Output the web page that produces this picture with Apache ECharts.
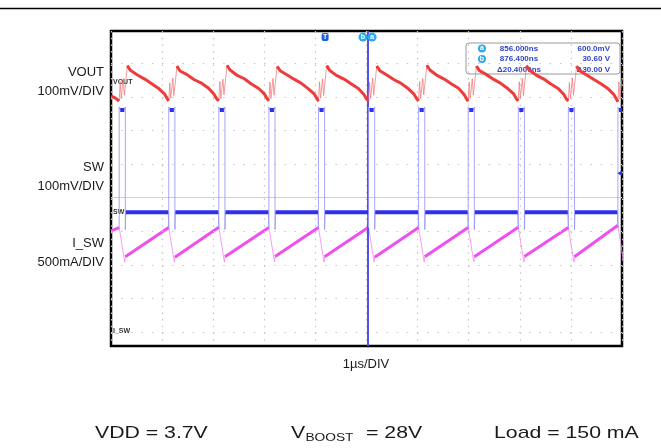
<!DOCTYPE html>
<html><head><meta charset="utf-8">
<script src="https://cdn.jsdelivr.net/npm/echarts@6/dist/echarts.min.js"></script>
<style>html,body{margin:0;padding:0;background:#fff}#c{width:661px;height:448px}</style>
</head><body><div id="c"></div>
<script>
// time axis: microseconds (1 div = 1 us), vertical axis: scope divisions (0 = centre line)
const xTicks = [0,1,2,3,4,5,6,7,8,9,10];
const gridRows = [-4,-3,-2,-1,1,2,3,4];
const centreRow = [0];
const cursorTime = [5.02];
const markers = [{name:'T', t:4.19}, {name:'b', t:4.93}, {name:'a', t:5.11}];
const swArrow = [[9.95, 0.73]];

const voutMain = [
[0.00,3.03],[0.08,2.97],[0.16,2.88],null,
[0.32,3.93],[0.38,3.79],[0.51,3.66],[0.66,3.53],[0.79,3.40],[0.94,3.24],[1.05,3.08],[1.10,2.95],[1.13,2.88],null,
[1.29,3.92],[1.35,3.77],[1.48,3.67],[1.63,3.51],[1.76,3.42],[1.91,3.26],[2.02,3.07],[2.07,2.94],[2.11,2.88],null,
[2.27,3.94],[2.33,3.80],[2.46,3.65],[2.61,3.54],[2.74,3.39],[2.89,3.25],[3.00,3.09],[3.05,2.96],[3.09,2.88],null,
[3.25,3.91],[3.31,3.78],[3.44,3.66],[3.59,3.52],[3.72,3.41],[3.87,3.23],[3.98,3.08],[4.03,2.95],[4.06,2.87],null,
[4.22,3.93],[4.28,3.79],[4.41,3.64],[4.56,3.53],[4.69,3.40],[4.84,3.25],[4.95,3.07],[5.00,2.94],[5.04,2.88],null,
[5.20,3.92],[5.26,3.78],[5.39,3.66],[5.54,3.51],[5.67,3.41],[5.82,3.24],[5.93,3.08],[5.98,2.95],[6.02,2.88],null,
[6.18,3.94],[6.24,3.80],[6.37,3.65],[6.52,3.53],[6.65,3.40],[6.80,3.26],[6.91,3.07],[6.96,2.94],[6.99,2.87],null,
[7.15,3.92],[7.21,3.78],[7.34,3.67],[7.49,3.52],[7.62,3.41],[7.77,3.24],[7.88,3.09],[7.93,2.95],[7.97,2.88],null,
[8.13,3.93],[8.19,3.79],[8.32,3.65],[8.47,3.53],[8.60,3.39],[8.75,3.25],[8.86,3.08],[8.91,2.94],[8.95,2.88],null,
[9.11,3.92],[9.17,3.78],[9.30,3.66],[9.45,3.52],[9.58,3.40],[9.73,3.24],[9.84,3.07],[9.89,2.94],[9.92,2.85]
];
const voutEdge = [
[0.16,2.88],[0.18,3.45],[0.20,2.95],[0.24,3.55],[0.26,3.05],[0.30,3.62],[0.32,3.93],null,
[1.13,2.88],[1.15,3.42],[1.17,2.96],[1.21,3.56],[1.23,3.04],[1.27,3.60],[1.29,3.92],null,
[2.11,2.88],[2.13,3.46],[2.15,2.94],[2.19,3.53],[2.21,3.06],[2.25,3.63],[2.27,3.94],null,
[3.09,2.88],[3.11,3.44],[3.13,2.95],[3.17,3.55],[3.19,3.05],[3.23,3.61],[3.25,3.91],null,
[4.06,2.87],[4.08,3.45],[4.10,2.96],[4.14,3.54],[4.16,3.04],[4.20,3.62],[4.22,3.93],null,
[5.04,2.88],[5.06,3.43],[5.08,2.95],[5.12,3.56],[5.14,3.05],[5.18,3.60],[5.20,3.92],null,
[6.02,2.88],[6.04,3.46],[6.06,2.94],[6.10,3.55],[6.12,3.06],[6.16,3.62],[6.18,3.94],null,
[6.99,2.87],[7.01,3.44],[7.03,2.95],[7.07,3.54],[7.09,3.05],[7.13,3.61],[7.15,3.92],null,
[7.97,2.88],[7.99,3.45],[8.01,2.96],[8.05,3.55],[8.07,3.04],[8.11,3.62],[8.13,3.93],null,
[8.95,2.88],[8.97,3.43],[8.99,2.95],[9.03,3.56],[9.05,3.05],[9.09,3.60],[9.11,3.92],null,
[9.92,2.85],[9.94,3.45],[9.96,2.95],[10.00,3.55]
];
const swMain = [
[0.18,2.61],[0.26,2.61],null,[0.29,-0.43],[1.12,-0.43],null,
[1.15,2.61],[1.23,2.61],null,[1.26,-0.43],[2.10,-0.43],null,
[2.13,2.61],[2.21,2.61],null,[2.24,-0.43],[3.08,-0.43],null,
[3.11,2.61],[3.19,2.61],null,[3.22,-0.43],[4.05,-0.43],null,
[4.08,2.61],[4.16,2.61],null,[4.19,-0.43],[5.03,-0.43],null,
[5.06,2.61],[5.14,2.61],null,[5.17,-0.43],[6.01,-0.43],null,
[6.04,2.61],[6.12,2.61],null,[6.15,-0.43],[6.98,-0.43],null,
[7.01,2.61],[7.09,2.61],null,[7.12,-0.43],[7.96,-0.43],null,
[7.99,2.61],[8.07,2.61],null,[8.10,-0.43],[8.94,-0.43],null,
[8.97,2.61],[9.05,2.61],null,[9.08,-0.43],[9.91,-0.43],null,
[9.94,2.61],[10.00,2.61]
];
const swEdge = [
[0.16,-0.90],[0.16,2.70],[0.18,2.61],null,[0.26,2.61],[0.28,2.70],[0.28,-0.95],[0.29,-0.43],null,
[1.12,-0.43],[1.13,-0.90],[1.13,2.70],[1.15,2.61],null,[1.23,2.61],[1.25,2.70],[1.25,-0.95],[1.26,-0.43],null,
[2.10,-0.43],[2.11,-0.90],[2.11,2.70],[2.13,2.61],null,[2.21,2.61],[2.23,2.70],[2.23,-0.95],[2.24,-0.43],null,
[3.08,-0.43],[3.09,-0.90],[3.09,2.70],[3.11,2.61],null,[3.19,2.61],[3.21,2.70],[3.21,-0.95],[3.22,-0.43],null,
[4.05,-0.43],[4.06,-0.90],[4.06,2.70],[4.08,2.61],null,[4.16,2.61],[4.18,2.70],[4.18,-0.95],[4.19,-0.43],null,
[5.03,-0.43],[5.04,-0.90],[5.04,2.70],[5.06,2.61],null,[5.14,2.61],[5.16,2.70],[5.16,-0.95],[5.17,-0.43],null,
[6.01,-0.43],[6.02,-0.90],[6.02,2.70],[6.04,2.61],null,[6.12,2.61],[6.14,2.70],[6.14,-0.95],[6.15,-0.43],null,
[6.98,-0.43],[6.99,-0.90],[6.99,2.70],[7.01,2.61],null,[7.09,2.61],[7.11,2.70],[7.11,-0.95],[7.12,-0.43],null,
[7.96,-0.43],[7.97,-0.90],[7.97,2.70],[7.99,2.61],null,[8.07,2.61],[8.09,2.70],[8.09,-0.95],[8.10,-0.43],null,
[8.94,-0.43],[8.95,-0.90],[8.95,2.70],[8.97,2.61],null,[9.05,2.61],[9.07,2.70],[9.07,-0.95],[9.08,-0.43],null,
[9.91,-0.43],[9.92,-0.90],[9.92,2.70],[9.94,2.61]
];
const iswMain = [
[0.00,-0.99],[0.16,-0.89],null,
[0.28,-1.76],[1.13,-0.89],null,
[1.25,-1.77],[2.11,-0.88],null,
[2.23,-1.76],[3.09,-0.89],null,
[3.21,-1.75],[4.06,-0.89],null,
[4.18,-1.76],[5.04,-0.88],null,
[5.16,-1.77],[6.02,-0.89],null,
[6.14,-1.76],[6.99,-0.89],null,
[7.11,-1.76],[7.97,-0.88],null,
[8.09,-1.75],[8.95,-0.89],null,
[9.07,-1.76],[9.92,-0.82]
];
const iswEdge = [
[0.16,-0.89],[0.27,-1.92],[0.28,-1.76],null,
[1.13,-0.89],[1.24,-1.92],[1.25,-1.77],null,
[2.11,-0.88],[2.22,-1.92],[2.23,-1.76],null,
[3.09,-0.89],[3.20,-1.91],[3.21,-1.75],null,
[4.06,-0.89],[4.17,-1.92],[4.18,-1.76],null,
[5.04,-0.88],[5.15,-1.92],[5.16,-1.77],null,
[6.02,-0.89],[6.13,-1.92],[6.14,-1.76],null,
[6.99,-0.89],[7.10,-1.91],[7.11,-1.76],null,
[7.97,-0.88],[8.08,-1.92],[8.09,-1.76],null,
[8.95,-0.89],[9.06,-1.92],[9.07,-1.75],null,
[9.92,-0.82],[10.03,-1.92]
];

const chLabels = [['VOUT','100mV/DIV'],['SW','100mV/DIV'],['I_SW','500mA/DIV']];
const readout = [['a','856.000ns','600.0mV'],['b','876.400ns','30.60 V'],['','\u039420.4000ns','\u039430.00 V']];

const FONT = '"Liberation Sans", Arial, sans-serif';
const chart = echarts.init(document.getElementById('c'), null, {renderer:'canvas'});

function lineSeries(data, color, width, z){
  return {type:'line', data:data, showSymbol:false, symbol:'none', connectNulls:false, clip:true,
    lineStyle:{color:color, width:width}, z:z, silent:true, animation:false};
}
function txt(x,y,text,size,align,extra){
  return Object.assign({type:'text', x:x, y:y, silent:true, style:Object.assign({text:text, font:size+'px '+FONT,
    fill:'#1a1a1a', align:align, verticalAlign:'middle', textAlign:align, textVerticalAlign:'middle'}, extra||{})});
}

const chLabelY = [[72,91],[167,186],[243,262]];
const graphics = [
  {type:'line', shape:{x1:0,y1:8.5,x2:661,y2:8.5}, style:{stroke:'#000', lineWidth:1.5}, silent:true}
];
chLabels.forEach((c,i)=>{
  graphics.push(txt(104, chLabelY[i][0], c[0], 13, 'right'));
  graphics.push(txt(104, chLabelY[i][1], c[1], 13, 'right'));
});
graphics.push(txt(113, 82, 'VOUT', 7, 'left', {font:'bold 7px '+FONT, fill:'#333'}));
graphics.push(txt(113, 212, 'SW', 7, 'left', {font:'bold 7px '+FONT, fill:'#333'}));
graphics.push(txt(113, 331, 'I_SW', 7, 'left', {font:'bold 7px '+FONT, fill:'#333'}));
graphics.push(txt(366, 364, '1\u00b5s/DIV', 13, 'center'));
// bottom conditions
graphics.push({type:'group', x:95, y:433, scaleX:1.25, children:[txt(0,0,'VDD = 3.7V',17,'left')]});
graphics.push({type:'group', x:291, y:433, scaleX:1.25, children:[
  txt(0,0,'V',17,'left'), txt(11.5,4.5,'BOOST',11,'left'), txt(60,0,'= 28V',17,'left')]});
graphics.push({type:'group', x:494, y:433, scaleX:1.25, children:[txt(0,0,'Load = 150 mA',17,'left')]});
// cursor readout box
const box = {type:'group', x:466, y:43, children:[
  {type:'rect', shape:{x:0,y:0,width:154,height:31,r:3}, style:{fill:'#fff', stroke:'#9a9a9a', lineWidth:1}}
]};
readout.forEach((r,i)=>{
  const yy = 5.5 + i*10.4;
  if (r[0]) {
    box.children.push({type:'circle', shape:{cx:16, cy:yy, r:4}, style:{fill:'#2fa9ee'}});
    box.children.push(txt(16, yy, r[0], 7, 'center', {font:'bold 7px '+FONT, fill:'#fff'}));
  }
  box.children.push(txt(53, yy, r[1], 8, 'center', {font:'bold 8px '+FONT, fill:'#2e44c8'}));
  box.children.push(txt(144, yy, r[2], 8, 'right', {font:'bold 8px '+FONT, fill:'#2e44c8'}));
});
graphics.push(box);

const markerData = markers.map(m=>{
  const isT = m.name === 'T';
  return {coord:[m.t, 4.78], symbol: isT ? 'roundRect' : 'circle', symbolSize: isT ? [7,8] : 9,
    itemStyle:{color: isT ? '#1f63d8' : '#2fa9ee'},
    label:{show:true, position:'inside', formatter:m.name, color:'#fff', fontSize:7, fontWeight:'bold', fontFamily:FONT}};
});
swArrow.forEach(p=>markerData.push({coord:p, symbol:'triangle', symbolRotate:90, symbolSize:5,
  itemStyle:{color:'#2f2ff0'}, label:{show:false}}));

const option = {
  animation:false,
  backgroundColor:'#fff',
  grid:{left:111, top:31, width:511, height:315, show:true, borderColor:'#000', borderWidth:2.5, backgroundColor:'#fff', containLabel:false},
  xAxis:{type:'value', min:0, max:10, interval:1, axisLine:{show:false}, axisTick:{show:false}, axisLabel:{show:false},
    splitLine:{show:true, lineStyle:{color:'#c6c6c6', width:1.2, type:[1.5,5.2]}}},
  yAxis:{type:'value', min:-4.414, max:4.961, axisLine:{show:false}, axisTick:{show:false}, axisLabel:{show:false}, splitLine:{show:false}},
  graphic:graphics,
  series:[
    {type:'line', data:[], symbol:'none', silent:true, z:1,
      markLine:{silent:true, symbol:'none', label:{show:false}, animation:false,
        data: gridRows.map(v=>({yAxis:v, lineStyle:{color:'#c6c6c6', width:1.2, type:[1.5,8.7]}}))
          .concat(centreRow.map(v=>({yAxis:v, lineStyle:{color:'#cfcfcf', width:1, type:'solid'}})))}},
    lineSeries(iswEdge, 'rgba(245,140,245,0.85)', 1, 3),
    lineSeries(iswMain, '#ef4fef', 3, 4),
    lineSeries(swEdge, 'rgba(150,150,250,0.85)', 1, 5),
    lineSeries(swMain, '#2f2ff0', 4, 6),
    lineSeries(voutEdge, 'rgba(240,120,120,0.75)', 1, 7),
    lineSeries(voutMain, '#ee3b3b', 3, 8),
    {type:'line', data:[], symbol:'none', silent:true, z:10,
      markLine:{silent:true, symbol:'none', label:{show:false}, animation:false,
        data: cursorTime.map(t=>({xAxis:t, lineStyle:{color:'#5252f2', width:2, type:'solid'}}))},
      markPoint:{silent:true, animation:false, data:markerData}}
  ]
};
chart.setOption(option);
</script></body></html>
